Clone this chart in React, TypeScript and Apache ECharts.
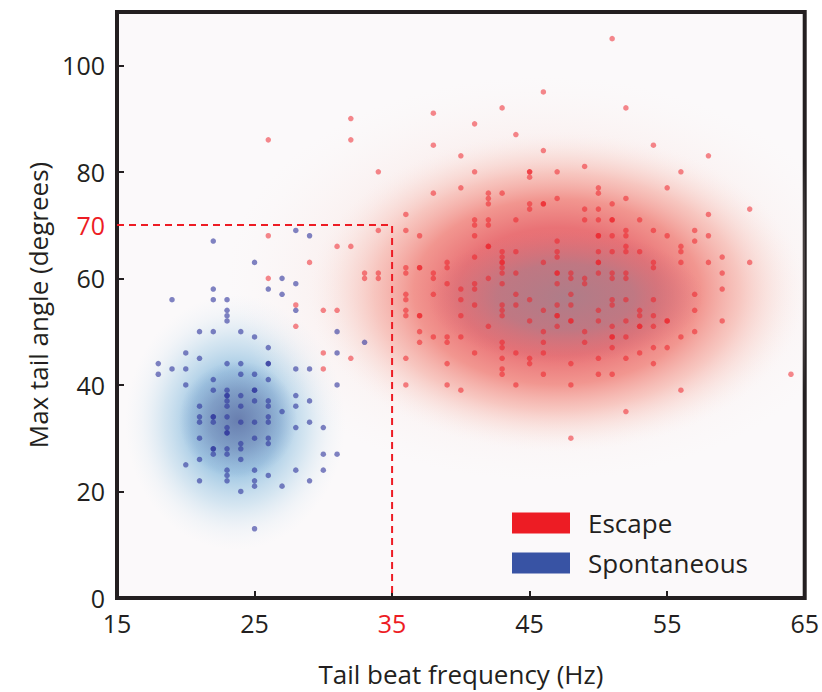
import React, { useEffect, useRef } from 'react';
import * as echarts from 'echarts';

// ---------- data ----------
const xTickValues = [15, 25, 35, 45, 55, 65];
const yLabelValues = [0, 20, 40, 60, 70, 80, 100];
const yTickValues = [0, 20, 40, 60, 80, 100];
const xRange = [15, 65];
const yRange = [0, 110];
const thresholdFreq = 35;
const thresholdAngle = 70;

// density clouds: [centre freq, centre angle, spread freq, spread angle]
const escapeGlow = [[46, 60, 23, 38]];
const escapeHalo = [[47, 57.5, 18, 30]];
const escapeCore = [[47.6, 56.5, 10, 12.5]];
const spontHalo = [[23.6, 33, 8, 24]];
const spontCore = [[23.8, 33.5, 4.3, 11]];

const spontaneous = [
  [28, 69], [22, 67], [29, 68], [25, 63], [27, 60], [22, 58], [26, 58], [28, 59], [27, 57],
  [19, 56], [22, 56], [23, 56], [23, 54], [23, 53], [23, 52], [28, 54], [21, 50], [22, 50],
  [24, 50], [25, 49], [31, 50], [26, 47], [20, 46], [21, 45], [31, 46], [18, 44], [23, 44],
  [24, 44], [26, 44], [26, 44], [18, 42], [19, 43], [20, 43], [28, 43], [29, 43], [24, 42],
  [25, 42], [22, 41], [26, 41], [20, 40], [31, 40], [22, 39], [23, 39], [25, 39], [25, 39],
  [23, 38], [23, 38], [24, 38], [28, 38], [23, 37], [25, 37], [26, 37], [29, 37], [21, 36],
  [23, 36], [24, 36], [26, 36], [28, 36], [27, 35], [21, 34], [22, 34], [22, 34], [23, 34],
  [26, 34], [21, 33], [22, 33], [24, 33], [25, 33], [26, 33], [29, 33], [23, 32], [28, 32],
  [30, 32], [23, 31], [23, 31], [21, 30], [25, 30], [26, 30], [24, 29], [26, 29], [22, 28],
  [22, 28], [23, 28], [24, 28], [22, 27], [23, 27], [30, 27], [31, 27], [21, 26], [24, 26],
  [20, 25], [23, 24], [25, 24], [28, 24], [30, 24], [23, 23], [26, 23], [21, 22], [23, 22],
  [25, 22], [29, 22], [25, 21], [27, 21], [24, 20], [25, 13], [33, 48],
];

const escape = [
  [26, 86], [26, 68], [31, 66], [32, 66], [29, 63], [26, 60], [28, 55], [30, 54], [31, 54],
  [28, 51], [30, 46], [32, 45], [30, 43],
  [32, 90], [32, 86], [34, 80], [38, 91], [38, 85], [38, 76], [40, 83], [40, 77], [41, 89],
  [41, 80], [43, 92], [43, 76], [44, 87], [44, 71], [46, 95], [46, 84], [46, 74], [46, 74],
  [45, 80], [45, 80], [45, 79], [45, 74], [45, 73], [47, 80], [47, 75], [47, 67], [42, 76],
  [42, 75], [42, 74], [42, 71], [42, 70], [42, 66], [42, 66], [41, 71], [41, 70], [41, 68],
  [36, 72], [36, 69], [37, 68], [34, 69],
  [51, 105], [52, 92], [54, 85], [58, 83], [56, 80], [49, 81], [50, 77], [50, 76], [55, 77],
  [51, 74], [52, 75], [49, 73], [50, 73], [61, 73], [58, 72], [49, 71], [50, 71], [51, 71],
  [51, 71], [53, 71], [52, 69], [54, 69], [57, 69], [50, 68], [50, 68], [51, 68], [52, 68],
  [55, 68], [58, 68], [57, 67], [52, 66], [56, 66],
  [33, 61], [33, 60], [34, 61], [34, 60], [36, 62], [36, 61], [37, 62], [37, 62], [38, 61],
  [38, 60], [39, 63], [39, 62], [41, 64], [43, 65], [43, 64], [43, 63], [43, 63], [43, 62],
  [43, 61], [43, 59], [44, 65], [44, 61], [46, 63], [47, 65], [47, 64], [47, 61], [47, 61],
  [47, 59], [47, 55], [47, 53], [47, 53], [47, 51], [39, 59], [40, 58], [41, 59], [41, 58],
  [42, 60], [36, 57], [36, 56], [38, 57], [40, 56], [41, 55], [44, 57], [44, 55], [45, 56],
  [46, 54], [43, 55], [43, 54], [43, 53], [36, 54], [36, 53], [37, 53], [37, 53], [40, 53],
  [42, 51], [45, 52], [37, 50], [37, 48], [38, 49], [39, 49], [39, 48], [40, 49], [46, 50],
  [46, 48], [46, 46], [46, 42], [43, 48], [43, 47], [41, 46], [44, 46], [45, 45], [45, 44],
  [43, 45], [43, 43], [43, 42], [36, 45], [39, 44], [36, 40], [39, 40], [40, 39], [44, 40],
  [52, 65], [50, 65], [51, 65], [53, 65], [56, 65], [50, 63], [50, 63], [54, 63], [54, 62],
  [56, 63], [58, 63], [59, 64], [61, 63], [48, 61], [48, 60], [49, 60], [49, 59], [50, 61],
  [51, 61], [51, 60], [52, 61], [52, 60], [59, 61], [59, 58], [48, 57], [48, 55], [51, 56],
  [51, 55], [52, 56], [54, 56], [57, 57], [50, 54], [53, 54], [53, 53], [54, 53], [57, 54],
  [48, 52], [48, 52], [50, 52], [52, 52], [55, 52], [55, 52], [59, 52], [51, 51], [53, 51],
  [53, 51], [54, 51], [49, 50], [57, 50], [51, 49], [51, 49], [52, 49], [56, 49], [49, 48],
  [51, 47], [54, 47], [55, 47], [53, 46], [50, 45], [52, 45], [48, 44], [54, 44], [50, 42],
  [51, 42], [48, 40], [56, 39], [52, 35], [48, 30], [64, 42],
];

// ---------- styles ----------
const INK = '#231f20';
const RED = '#ed1c24';
const BLUE = '#3853a4';
const FONT = 'Open Sans';

const escapeGlowStops = [
  { offset: 0, color: 'rgba(246,196,190,0.55)' },
  { offset: 0.6, color: 'rgba(248,215,210,0.35)' },
  { offset: 0.85, color: 'rgba(250,232,230,0.15)' },
  { offset: 1, color: 'rgba(251,240,240,0)' },
];
const escapeHaloStops = [
  { offset: 0, color: 'rgba(222,105,115,1)' },
  { offset: 0.4, color: 'rgba(232,108,112,0.95)' },
  { offset: 0.58, color: 'rgba(240,135,128,0.85)' },
  { offset: 0.74, color: 'rgba(245,172,162,0.6)' },
  { offset: 0.88, color: 'rgba(248,208,200,0.3)' },
  { offset: 1, color: 'rgba(250,235,232,0)' },
];
const escapeCoreStops = [
  { offset: 0, color: 'rgba(172,126,138,0.95)' },
  { offset: 0.5, color: 'rgba(182,122,134,0.8)' },
  { offset: 0.78, color: 'rgba(202,116,126,0.4)' },
  { offset: 1, color: 'rgba(220,110,120,0)' },
];
const spontHaloStops = [
  { offset: 0, color: 'rgba(125,170,212,0.95)' },
  { offset: 0.4, color: 'rgba(140,188,222,0.8)' },
  { offset: 0.65, color: 'rgba(175,210,232,0.5)' },
  { offset: 0.85, color: 'rgba(208,227,240,0.2)' },
  { offset: 1, color: 'rgba(225,236,245,0)' },
];
const spontCoreStops = [
  { offset: 0, color: 'rgba(100,118,168,0.85)' },
  { offset: 0.5, color: 'rgba(110,132,178,0.55)' },
  { offset: 1, color: 'rgba(125,155,200,0)' },
];

function cloudSeries(data: number[][], stops: any[], z: number) {
  return {
    type: 'custom',
    silent: true,
    clip: true,
    z,
    dimensions: ['x', 'y', 'sx', 'sy'],
    encode: { x: 0, y: 1 },
    data,
    renderItem: (_params: any, api: any) => {
      const cx = api.value(0);
      const cy = api.value(1);
      const c = api.coord([cx, cy]);
      const o = api.coord([cx + api.value(2), cy + api.value(3)]);
      return {
        type: 'ellipse',
        shape: { cx: c[0], cy: c[1], rx: Math.abs(o[0] - c[0]), ry: Math.abs(o[1] - c[1]) },
        style: { fill: new echarts.graphic.RadialGradient(0.5, 0.5, 0.5, stops) },
      };
    },
  };
}

export default function App() {
  const ref = useRef<HTMLDivElement>(null);
  useEffect(() => {
    document.body.style.margin = '0';
    if (!ref.current) return;
    const chart = echarts.init(ref.current, undefined, { renderer: 'svg' });
    chart.setOption({
      animation: false,
      backgroundColor: '#ffffff',
      textStyle: { fontFamily: FONT },
      grid: {
        left: 117,
        right: 15,
        top: 12,
        bottom: 89,
        show: true,
        backgroundColor: '#fbf9fa',
        borderColor: INK,
        borderWidth: 4,
      },
      legend: {
        left: 507,
        top: 505,
        orient: 'vertical',
        icon: 'rect',
        itemWidth: 58,
        itemHeight: 21,
        itemGap: 14,
        selectedMode: false,
        textStyle: { fontSize: 26, color: INK, fontFamily: FONT, lineHeight: 21, padding: [0, 0, 0, 13] },
        data: [
          { name: 'Escape', itemStyle: { color: RED, opacity: 1 } },
          { name: 'Spontaneous', itemStyle: { color: BLUE, opacity: 1 } },
        ],
      },
      xAxis: {
        type: 'value',
        min: xRange[0],
        max: xRange[1],
        name: 'Tail beat frequency (Hz)',
        nameLocation: 'middle',
        nameGap: 63,
        nameTextStyle: { fontSize: 26, color: INK, fontFamily: FONT },
        axisLine: { show: false },
        splitLine: { show: false },
        axisTick: {
          show: true,
          inside: true,
          length: 7,
          customValues: xTickValues,
          lineStyle: { color: INK, width: 2 },
        },
        axisLabel: {
          customValues: xTickValues,
          margin: 12,
          fontSize: 25,
          fontFamily: FONT,
          color: (v: any) => (Number(v) === thresholdFreq ? RED : INK),
        },
      },
      yAxis: {
        type: 'value',
        min: yRange[0],
        max: yRange[1],
        name: 'Max tail angle (degrees)',
        nameLocation: 'middle',
        nameGap: 63,
        nameTextStyle: { fontSize: 26, color: INK, fontFamily: FONT },
        axisLine: { show: false },
        splitLine: { show: false },
        axisTick: {
          show: true,
          inside: true,
          length: 7,
          customValues: yTickValues,
          lineStyle: { color: INK, width: 2 },
        },
        axisLabel: {
          customValues: yLabelValues,
          margin: 12,
          fontSize: 25,
          fontFamily: FONT,
          color: (v: any) => (Number(v) === thresholdAngle ? RED : INK),
        },
      },
      series: [
        cloudSeries(spontHalo, spontHaloStops, 1),
        cloudSeries(spontCore, spontCoreStops, 2),
        cloudSeries(escapeGlow, escapeGlowStops, 1),
        cloudSeries(escapeHalo, escapeHaloStops, 1),
        cloudSeries(escapeCore, escapeCoreStops, 2),
        {
          name: 'Spontaneous',
          type: 'scatter',
          z: 5,
          symbolSize: 5.5,
          itemStyle: { color: 'rgba(45,50,155,0.75)' },
          data: spontaneous,
        },
        {
          name: 'Escape',
          type: 'scatter',
          z: 6,
          symbolSize: 5.5,
          itemStyle: { color: 'rgba(237,28,36,0.65)' },
          data: escape,
        },
        {
          type: 'line',
          z: 7,
          symbol: 'none',
          silent: true,
          lineStyle: { color: RED, width: 2, type: [7, 5] },
          data: [
            [xRange[0], thresholdAngle],
            [thresholdFreq, thresholdAngle],
            [thresholdFreq, yRange[0]],
          ],
        },
      ],
    });
    return () => chart.dispose();
  }, []);
  return (
    <div
      ref={ref}
      style={{ position: 'fixed', left: 0, top: 0, width: 822, height: 692 }}
    />
  );
}
